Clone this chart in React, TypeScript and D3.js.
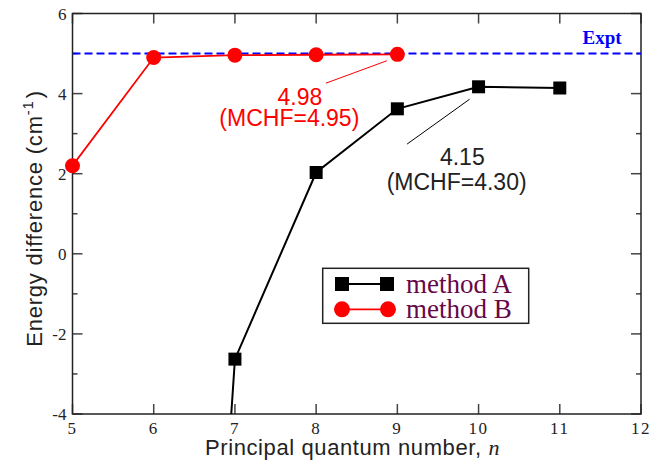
import React, { useEffect, useRef } from 'react';
import * as d3 from 'd3';

// method A (black squares); the n=6 point lies far below the axis and is clipped
const nA = [6, 7, 8, 9, 10, 11];
const energyA = [-33, -2.63, 2.03, 3.62, 4.17, 4.14];
// method B (red circles)
const nB = [5, 6, 7, 8, 9];
const energyB = [2.2, 4.9, 4.96, 4.97, 4.98];
const exptValue = 5.0;

const xTicks = [5, 6, 7, 8, 9, 10, 11, 12];
const yTicks = [-4, -2, 0, 2, 4, 6];
const yMinorTicks = [-3, -1, 1, 3, 5];

const legendLabels = ['method A', 'method B'];

const SERIF = '"Liberation Serif", "Times New Roman", serif';
const SANS = '"Liberation Sans", Arial, Helvetica, sans-serif';

const App = () => {
  const chartRef = useRef<SVGSVGElement | null>(null);

  useEffect(() => {
    document.body.style.margin = '0';
    const svg = d3.select(chartRef.current);
    svg.selectAll('*').remove();

    const left = 72.5, right = 641, top = 13.5, bottom = 414;

    const x = d3.scaleLinear().domain([5, 12]).range([left, right]);
    const y = d3.scaleLinear().domain([-4, 6]).range([bottom, top]);

    svg.append('defs').append('clipPath').attr('id', 'plot-clip')
      .append('rect')
      .attr('x', left).attr('y', top)
      .attr('width', right - left).attr('height', bottom - top);

    // ticks (inside, on all four sides)
    const ticks = svg.append('g').attr('stroke', '#444').attr('stroke-width', 1.5);
    xTicks.forEach(t => {
      ticks.append('line').attr('x1', x(t)).attr('x2', x(t)).attr('y1', bottom).attr('y2', bottom - 10);
      ticks.append('line').attr('x1', x(t)).attr('x2', x(t)).attr('y1', top).attr('y2', top + 10);
    });
    yTicks.forEach(t => {
      ticks.append('line').attr('y1', y(t)).attr('y2', y(t)).attr('x1', left).attr('x2', left + 10);
      ticks.append('line').attr('y1', y(t)).attr('y2', y(t)).attr('x1', right).attr('x2', right - 10);
    });
    yMinorTicks.forEach(t => {
      ticks.append('line').attr('y1', y(t)).attr('y2', y(t)).attr('x1', left).attr('x2', left + 5);
      ticks.append('line').attr('y1', y(t)).attr('y2', y(t)).attr('x1', right).attr('x2', right - 5);
    });

    // frame
    svg.append('rect')
      .attr('x', left).attr('y', top)
      .attr('width', right - left).attr('height', bottom - top)
      .attr('fill', 'none').attr('stroke', '#222').attr('stroke-width', 1.5);

    // tick labels
    svg.append('g').selectAll('text').data(xTicks).enter().append('text')
      .attr('x', d => x(d)).attr('y', bottom + 19.5)
      .attr('text-anchor', 'middle')
      .attr('font-family', SERIF).attr('font-size', 17).attr('letter-spacing', 1.5).attr('fill', '#222')
      .text(d => d);
    svg.append('g').selectAll('text').data(yTicks).enter().append('text')
      .attr('x', left - 6).attr('y', d => y(d) + 6)
      .attr('text-anchor', 'end')
      .attr('font-family', SERIF).attr('font-size', 17).attr('fill', '#222')
      .text(d => (d < 0 ? '-' + Math.abs(d) : String(d)));

    // axis titles
    const xTitle = svg.append('text')
      .attr('x', 205).attr('y', 455)
      .attr('font-family', SANS).attr('font-size', 22).attr('letter-spacing', 0.6).attr('fill', '#222');
    xTitle.append('tspan').text('Principal quantum number, ');
    xTitle.append('tspan').attr('font-family', SERIF).attr('font-style', 'italic').text('n');

    const yTitle = svg.append('text')
      .attr('transform', `translate(42, 218.5) rotate(-90)`)
      .attr('text-anchor', 'middle')
      .attr('font-family', SANS).attr('font-size', 22).attr('letter-spacing', 0.8).attr('fill', '#222');
    yTitle.append('tspan').text('Energy difference (cm');
    yTitle.append('tspan').attr('font-size', 15).attr('dy', -9).text('-1');
    yTitle.append('tspan').attr('dy', 9).attr('dx', 2).text(')');

    const plot = svg.append('g').attr('clip-path', 'url(#plot-clip)');

    // experiment line
    plot.append('line')
      .attr('x1', left).attr('x2', right)
      .attr('y1', y(exptValue)).attr('y2', y(exptValue))
      .attr('stroke', '#0000ff').attr('stroke-width', 2)
      .attr('stroke-dasharray', '8,4');

    const line = d3.line<number>();

    // method A
    plot.append('path')
      .attr('d', line(nA.map((n, i) => [x(n), y(energyA[i])])))
      .attr('fill', 'none').attr('stroke', '#000').attr('stroke-width', 2);
    svg.append('g').selectAll('rect').data(nA).enter().append('rect')
      .attr('x', d => x(d) - 6.5).attr('y', (d, i) => y(energyA[i]) - 6.5)
      .attr('width', 13).attr('height', 13).attr('fill', '#000');

    // method B
    plot.append('path')
      .attr('d', line(nB.map((n, i) => [x(n), y(energyB[i])])))
      .attr('fill', 'none').attr('stroke', '#ff0000').attr('stroke-width', 1.8);
    svg.append('g').selectAll('circle').data(nB).enter().append('circle')
      .attr('cx', d => x(d)).attr('cy', (d, i) => y(energyB[i]))
      .attr('r', 7.5).attr('fill', '#ff0000');

    // annotations
    svg.append('text')
      .attr('x', x(11.28)).attr('y', y(5.23))
      .attr('font-family', SERIF).attr('font-weight', 'bold').attr('font-size', 19)
      .attr('fill', '#0000ff').text('Expt');

    svg.append('line')
      .attr('x1', x(8.12)).attr('y1', y(4.26)).attr('x2', x(8.87)).attr('y2', y(4.82))
      .attr('stroke', '#ff0000').attr('stroke-width', 1);
    const redNote = svg.append('g')
      .attr('font-family', SANS).attr('font-size', 23).attr('fill', '#ff0000')
      .attr('text-anchor', 'middle');
    redNote.append('text').attr('x', x(7.8)).attr('y', y(3.72)).text('4.98');
    redNote.append('text').attr('x', x(7.67)).attr('y', y(3.2)).text('(MCHF=4.95)');

    svg.append('line')
      .attr('x1', x(9.12)).attr('y1', y(2.74)).attr('x2', x(9.89)).attr('y2', y(3.86))
      .attr('stroke', '#000').attr('stroke-width', 1);
    const blackNote = svg.append('g')
      .attr('font-family', SANS).attr('font-size', 23).attr('fill', '#222')
      .attr('text-anchor', 'middle');
    blackNote.append('text').attr('x', x(9.8)).attr('y', y(2.22)).text('4.15');
    blackNote.append('text').attr('x', x(9.73)).attr('y', y(1.6)).text('(MCHF=4.30)');

    // legend
    const lg = svg.append('g');
    lg.append('rect')
      .attr('x', 322.7).attr('y', 268.3).attr('width', 206).attr('height', 55)
      .attr('fill', '#fff').attr('stroke', '#222').attr('stroke-width', 1.5);
    const rows = [284, 309.3];
    lg.append('line').attr('x1', 342).attr('x2', 387).attr('y1', rows[0]).attr('y2', rows[0])
      .attr('stroke', '#000').attr('stroke-width', 2);
    [342, 387].forEach(cx => {
      lg.append('rect').attr('x', cx - 7).attr('y', rows[0] - 7).attr('width', 14).attr('height', 14).attr('fill', '#000');
    });
    lg.append('line').attr('x1', 342).attr('x2', 388).attr('y1', rows[1]).attr('y2', rows[1])
      .attr('stroke', '#ff0000').attr('stroke-width', 1.8);
    [342, 388].forEach(cx => {
      lg.append('circle').attr('cx', cx).attr('cy', rows[1]).attr('r', 8).attr('fill', '#ff0000');
    });
    legendLabels.forEach((label, i) => {
      lg.append('text')
        .attr('x', 406).attr('y', rows[i] + 9)
        .attr('font-family', SERIF).attr('font-size', 27).attr('fill', '#670748')
        .text(label);
    });
  }, []);

  return <svg ref={chartRef} width={672} height={464} style={{ display: 'block', background: '#fff' }}></svg>;
};

export default App;
